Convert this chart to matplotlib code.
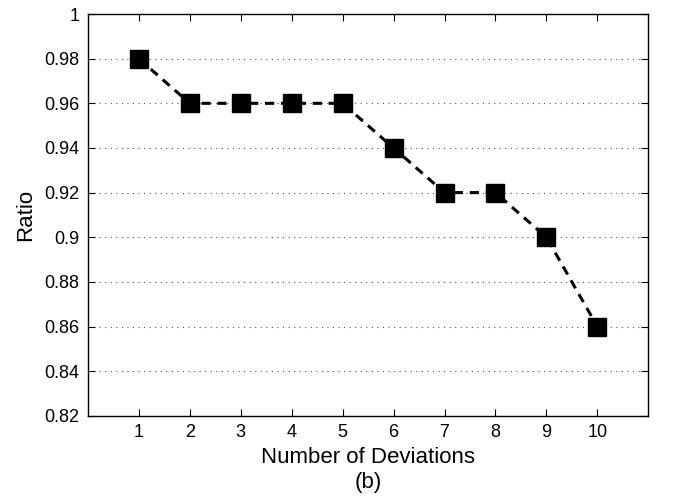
import matplotlib
matplotlib.use("Agg")
import matplotlib.pyplot as plt

plt.rcParams["font.family"] = ["Liberation Sans", "DejaVu Sans"]

deviations = [1, 2, 3, 4, 5, 6, 7, 8, 9, 10]
ratio = [0.98, 0.96, 0.96, 0.96, 0.96, 0.94, 0.92, 0.92, 0.90, 0.86]
y_ticks = [0.82, 0.84, 0.86, 0.88, 0.9, 0.92, 0.94, 0.96, 0.98, 1]
y_labels = ["0.82", "0.84", "0.86", "0.88", "0.9", "0.92", "0.94", "0.96", "0.98", "1"]

fig = plt.figure(figsize=(6.76, 5.01), dpi=100)
ax = fig.add_axes([0.130, 0.170, 0.829, 0.802])

ax.plot(deviations, ratio, color="black", linestyle="--", linewidth=2.2,
        dashes=(3, 2.2), marker="s", markersize=13, markerfacecolor="black",
        markeredgecolor="black")

ax.set_xlim(0, 11)
ax.set_ylim(0.82, 1.0)
ax.set_xticks(deviations)
ax.set_yticks(y_ticks)
ax.set_yticklabels(y_labels)
ax.tick_params(direction="in", top=True, right=True, labelsize=13, length=5, pad=6)
ax.yaxis.grid(True, linestyle=(0, (1, 4)), color="#555555", linewidth=0.8)

ax.set_xlabel("Number of Deviations\n(b)", fontsize=16, linespacing=1.25, labelpad=4)
ax.set_ylabel("Ratio", fontsize=16, labelpad=6)

for s in ax.spines.values():
    s.set_linewidth(1.0)

fig.savefig("out.png", dpi=100)
